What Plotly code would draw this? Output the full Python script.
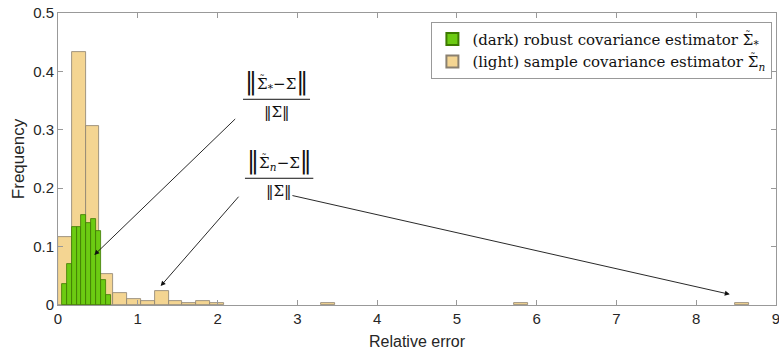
import plotly.graph_objects as go

# ---- data ----
light_bin_width = 0.1733
light_bin_index = [0, 1, 2, 3, 4, 5, 6, 7, 8, 9, 10, 11, 19, 33, 49]
light_freq = [0.1167, 0.4333, 0.3067, 0.0533, 0.0200, 0.0100, 0.0067, 0.0233,
              0.0067, 0.0033, 0.0067, 0.0033, 0.0033, 0.0033, 0.0033]

dark_bin_start = 0.047
dark_bin_width = 0.0617
dark_freq = [0.0367, 0.0700, 0.1333, 0.1333, 0.1533, 0.1400, 0.1467, 0.1267,
             0.0433, 0.0167]

x_ticks = [0, 1, 2, 3, 4, 5, 6, 7, 8, 9]
y_ticks = [0, 0.1, 0.2, 0.3, 0.4, 0.5]

light_x = [(i + 0.5) * light_bin_width for i in light_bin_index]
dark_x = [dark_bin_start + (i + 0.5) * dark_bin_width for i in range(len(dark_freq))]

SERIF = "DejaVu Serif"
SANS = "Liberation Sans"


def sig(sub):
    # Sigma with a tilde drawn above it, then a subscript
    return ('<span style="letter-spacing:-8px">Σ</span>'
            '<sup><span style="letter-spacing:3px">˜</span></sup>'
            '<sub>' + sub + '</sub>')


fig = go.Figure()
fig.add_trace(go.Bar(
    x=light_x, y=light_freq, width=[light_bin_width] * len(light_x),
    marker=dict(color="#F4D592", line=dict(color="#8a8070", width=0.8)),
    name="(light) sample covariance estimator " + sig("<i>n</i>"),
    legendrank=2,
))
fig.add_trace(go.Bar(
    x=dark_x, y=dark_freq, width=[dark_bin_width] * len(dark_x),
    marker=dict(color="#6CCB12", line=dict(color="#3d7a00", width=0.8)),
    name="(dark) robust covariance estimator " + sig("*"),
    legendrank=1,
))

# arrows (tail -> tip, in data coordinates)
arrows = [
    ((2.24, 0.321), (0.455, 0.0856)),
    ((2.28, 0.188), (1.287, 0.0325)),
    ((2.92, 0.188), (8.42, 0.0183)),
]
for (tx, ty), (hx, hy) in arrows:
    fig.add_annotation(x=hx, y=hy, ax=tx, ay=ty, xref="x", yref="y",
                       axref="x", ayref="y", text="", showarrow=True,
                       arrowhead=2, arrowsize=1.1, arrowwidth=0.9,
                       arrowcolor="#111")

bar = '<span style="font-size:24px">‖</span>'
fracs = [
    (sig("*") + "−Σ", 0.2577, 0.351, 0.7045),
    (sig("<i>n</i>") + "−Σ", 0.2604, 0.3556, 0.434),
]
for num, x0, x1, yl in fracs:
    xc = (x0 + x1) / 2
    fig.add_annotation(x=xc, y=yl + 0.005, xref="paper", yref="paper",
                       text=bar + num + bar, showarrow=False,
                       xanchor="center", yanchor="bottom",
                       font=dict(family=SERIF, size=15, color="#111"))
    fig.add_annotation(x=xc, y=yl - 0.005, xref="paper", yref="paper",
                       text="‖Σ‖", showarrow=False,
                       xanchor="center", yanchor="top",
                       font=dict(family=SERIF, size=15, color="#111"))
    fig.add_shape(type="line", xref="paper", yref="paper",
                  x0=x0, x1=x1, y0=yl, y1=yl,
                  line=dict(color="#111", width=1))

axis_common = dict(
    showgrid=False, zeroline=False, showline=True, linecolor="#999",
    linewidth=1, mirror="ticks", ticks="inside", ticklen=5,
    tickcolor="#999", automargin=False, ticklabeloverflow="allow",
    tickfont=dict(family=SANS, size=15, color="#262626"),
)
fig.update_xaxes(range=[0, 9], tickvals=x_ticks, **axis_common,
                 title=dict(text="Relative error", standoff=9,
                            font=dict(family=SANS, size=16, color="#262626")))
fig.update_yaxes(range=[0, 0.5], tickvals=y_ticks, **axis_common,
                 title=dict(text="Frequency", standoff=4,
                            font=dict(family=SANS, size=17, color="#262626")))

fig.update_layout(
    width=779, height=359,
    margin=dict(l=58, r=3, t=13, b=54),
    barmode="overlay", bargap=0,
    plot_bgcolor="white", paper_bgcolor="white",
    legend=dict(x=0.995, y=0.97, xanchor="right", yanchor="top",
                bgcolor="white", bordercolor="#999", borderwidth=1,
                font=dict(family=SERIF, size=15, color="#111"),
                tracegroupgap=0, itemsizing="constant"),
    showlegend=True,
)

fig.write_html("out.html", config={"displayModeBar": False},
               post_script="document.body.style.margin='0';")
